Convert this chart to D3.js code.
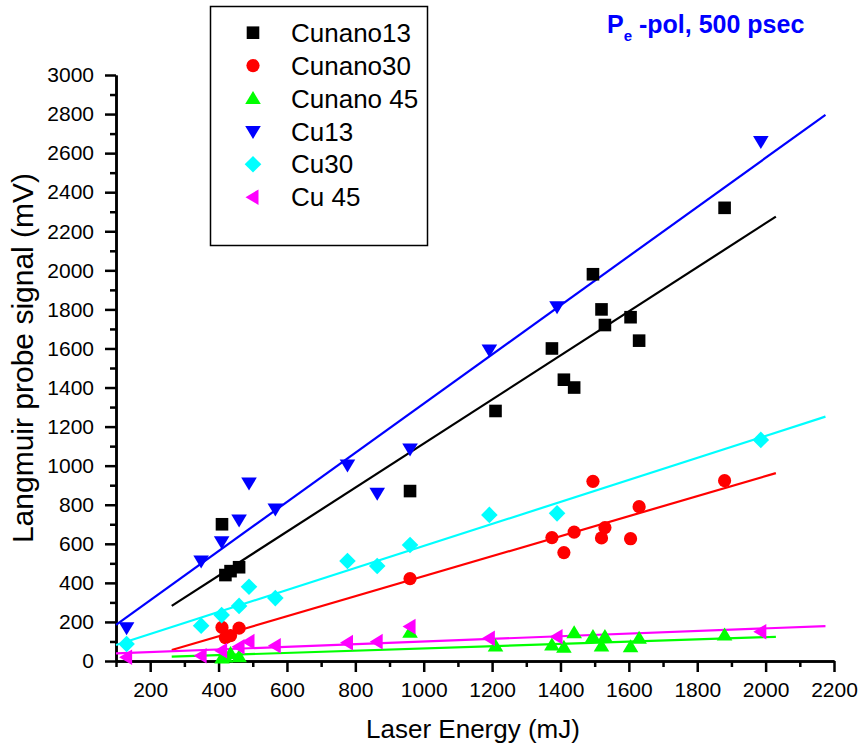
<!DOCTYPE html>
<html>
<head>
<meta charset="utf-8">
<script src="https://cdn.jsdelivr.net/npm/d3@7"></script>
<style>
  body { margin: 0; background: #fff; }
  text { font-family: Arial, "Liberation Sans", sans-serif; }
</style>
</head>
<body>
<script>
// --- data ---
const seriesNames = ['Cunano13', 'Cunano30', 'Cunano 45', 'Cu13', 'Cu30', 'Cu 45'];

const cunano13X = [410, 420, 435, 460, 960, 1210, 1375, 1410, 1440, 1495, 1520, 1530, 1605, 1630, 1880];
const cunano13Y = [700, 440, 460, 480, 870, 1280, 1600, 1440, 1400, 1980, 1800, 1720, 1760, 1640, 2320];

const cunano30X = [410, 420, 435, 460, 960, 1375, 1410, 1440, 1495, 1520, 1530, 1605, 1630, 1880];
const cunano30Y = [172, 120, 130, 168, 422, 632, 555, 660, 920, 630, 683, 626, 790, 923];

const cunano45X = [410, 420, 435, 460, 960, 1210, 1375, 1410, 1440, 1495, 1520, 1530, 1605, 1630, 1880];
const cunano45Y = [15, 20, 38, 22, 147, 77, 82, 70, 145, 125, 77, 125, 73, 116, 133];

const cuX = [131, 349, 409, 460, 489, 566, 777, 864, 960, 1192, 1390, 1986];
const cu13Y = [170, 512, 611, 722, 911, 778, 1003, 859, 1085, 1592, 1814, 2659];
const cu30Y = [87, 181, 235, 282, 380, 322, 512, 486, 594, 748, 756, 1132];
const cu45Y = [19, 27, 53, 73, 99, 78, 94, 99, 176, 116, 124, 150];

// linear fit lines: [x0, y0, x1, y1]
const fitCunano13 = [263, 282, 2030, 2275];
const fitCunano30 = [263, 56, 2030, 962];
const fitCunano45 = [263, 22, 2030, 124];
const fitCu13 = [100, 185, 2175, 2796];
const fitCu30 = [100, 82, 2175, 1251];
const fitCu45 = [100, 39, 2175, 179];

const xMajor = d3.range(200, 2201, 200);
const xMinor = d3.range(100, 2200, 200);
const yMajor = d3.range(0, 3001, 200);
const yMinor = d3.range(100, 3000, 200);

const series = [
  {name: seriesNames[0], xs: cunano13X, ys: cunano13Y, fit: fitCunano13, color: '#000000', shape: 'square'},
  {name: seriesNames[1], xs: cunano30X, ys: cunano30Y, fit: fitCunano30, color: '#ff0000', shape: 'circle'},
  {name: seriesNames[2], xs: cunano45X, ys: cunano45Y, fit: fitCunano45, color: '#00ff00', shape: 'up'},
  {name: seriesNames[3], xs: cuX, ys: cu13Y, fit: fitCu13, color: '#0000ff', shape: 'down'},
  {name: seriesNames[4], xs: cuX, ys: cu30Y, fit: fitCu30, color: '#00ffff', shape: 'diamond'},
  {name: seriesNames[5], xs: cuX, ys: cu45Y, fit: fitCu45, color: '#ff00ff', shape: 'left'},
];

const width = 859,
    height = 747;

var svg = d3.select('body').append('svg')
    .attr('width', width)
    .attr('height', height);

var x = d3.scaleLinear().domain([100, 2200]).range([116, 834]);
var y = d3.scaleLinear().domain([0, 3000]).range([661, 75]);

function shapePath(shape) {
  switch (shape) {
    case 'square': return 'M-6.3,-6.3H6.3V6.3H-6.3Z';
    case 'circle': return d3.arc()({innerRadius: 0, outerRadius: 6.6, startAngle: 0, endAngle: 2 * Math.PI});
    case 'up': return 'M0,-7.5L7.8,5.5L-7.8,5.5Z';
    case 'down': return 'M0,7.5L7.8,-5.5L-7.8,-5.5Z';
    case 'diamond': return 'M0,-8.3L8.3,0L0,8.3L-8.3,0Z';
    case 'left': return 'M-7.5,0L5.5,-7.8L5.5,7.8Z';
  }
}

// axes
svg.append('g')
    .attr('transform', `translate(0,${y(0)})`)
    .call(d3.axisBottom(x).tickValues(xMajor).tickSize(11).tickSizeOuter(0).tickPadding(10).tickFormat(d3.format('d')));
svg.append('g')
    .attr('transform', `translate(0,${y(0)})`)
    .call(d3.axisBottom(x).tickValues(xMinor).tickSize(6).tickSizeOuter(0).tickFormat(''));

svg.append('g')
    .attr('transform', `translate(${x(100)},0)`)
    .call(d3.axisLeft(y).tickValues(yMajor).tickSize(11).tickSizeOuter(0).tickPadding(11).tickFormat(d3.format('d')));
svg.append('g')
    .attr('transform', `translate(${x(100)},0)`)
    .call(d3.axisLeft(y).tickValues(yMinor).tickSize(6).tickSizeOuter(0).tickFormat(''));

svg.selectAll('.domain, .tick line')
    .attr('stroke', '#000')
    .attr('stroke-width', 2.5);
svg.selectAll('.tick text')
    .attr('fill', '#000')
    .style('font-size', '21px');

// axis titles
svg.append('text')
    .attr('x', 473)
    .attr('y', 738)
    .attr('text-anchor', 'middle')
    .style('font-size', '26px')
    .text('Laser Energy (mJ)');

svg.append('text')
    .attr('transform', 'translate(33,358) rotate(-90)')
    .attr('text-anchor', 'middle')
    .style('font-size', '30px')
    .text('Langmuir probe signal (mV)');

// fit lines
svg.append('g').selectAll('line')
    .data(series)
  .enter().append('line')
    .attr('x1', d => x(d.fit[0]))
    .attr('y1', d => y(d.fit[1]))
    .attr('x2', d => x(d.fit[2]))
    .attr('y2', d => y(d.fit[3]))
    .attr('stroke', d => d.color)
    .attr('stroke-width', 2.2);

// markers
series.forEach(s => {
  svg.append('g').selectAll('path')
      .data(s.xs.map((v, i) => [v, s.ys[i]]))
    .enter().append('path')
      .attr('transform', d => `translate(${x(d[0])},${y(d[1])})`)
      .attr('d', shapePath(s.shape))
      .attr('fill', s.color);
});

// legend
var legend = svg.append('g');
legend.append('rect')
    .attr('x', 210.5)
    .attr('y', 6.5)
    .attr('width', 217)
    .attr('height', 239)
    .attr('fill', 'none')
    .attr('stroke', '#000')
    .attr('stroke-width', 1.5);

var rows = legend.selectAll('g.row')
    .data(series)
  .enter().append('g')
    .attr('class', 'row')
    .attr('transform', (d, i) => `translate(0,${32.7 + i * 32.9})`);
rows.append('path')
    .attr('transform', 'translate(253,0)')
    .attr('d', d => shapePath(d.shape))
    .attr('fill', d => d.color);
rows.append('text')
    .attr('x', 291)
    .attr('dy', '0.35em')
    .style('font-size', '26px')
    .text(d => d.name);

// title
var title = svg.append('text')
    .attr('x', 607)
    .attr('y', 33)
    .attr('fill', '#0000ff')
    .style('font-size', '25px')
    .style('font-weight', 'bold');
title.append('tspan').text('P');
title.append('tspan').attr('dy', 8).style('font-size', '15px').text('e');
title.append('tspan').attr('dy', -8).text(' -pol, 500 psec');
</script>
</body>
</html>
